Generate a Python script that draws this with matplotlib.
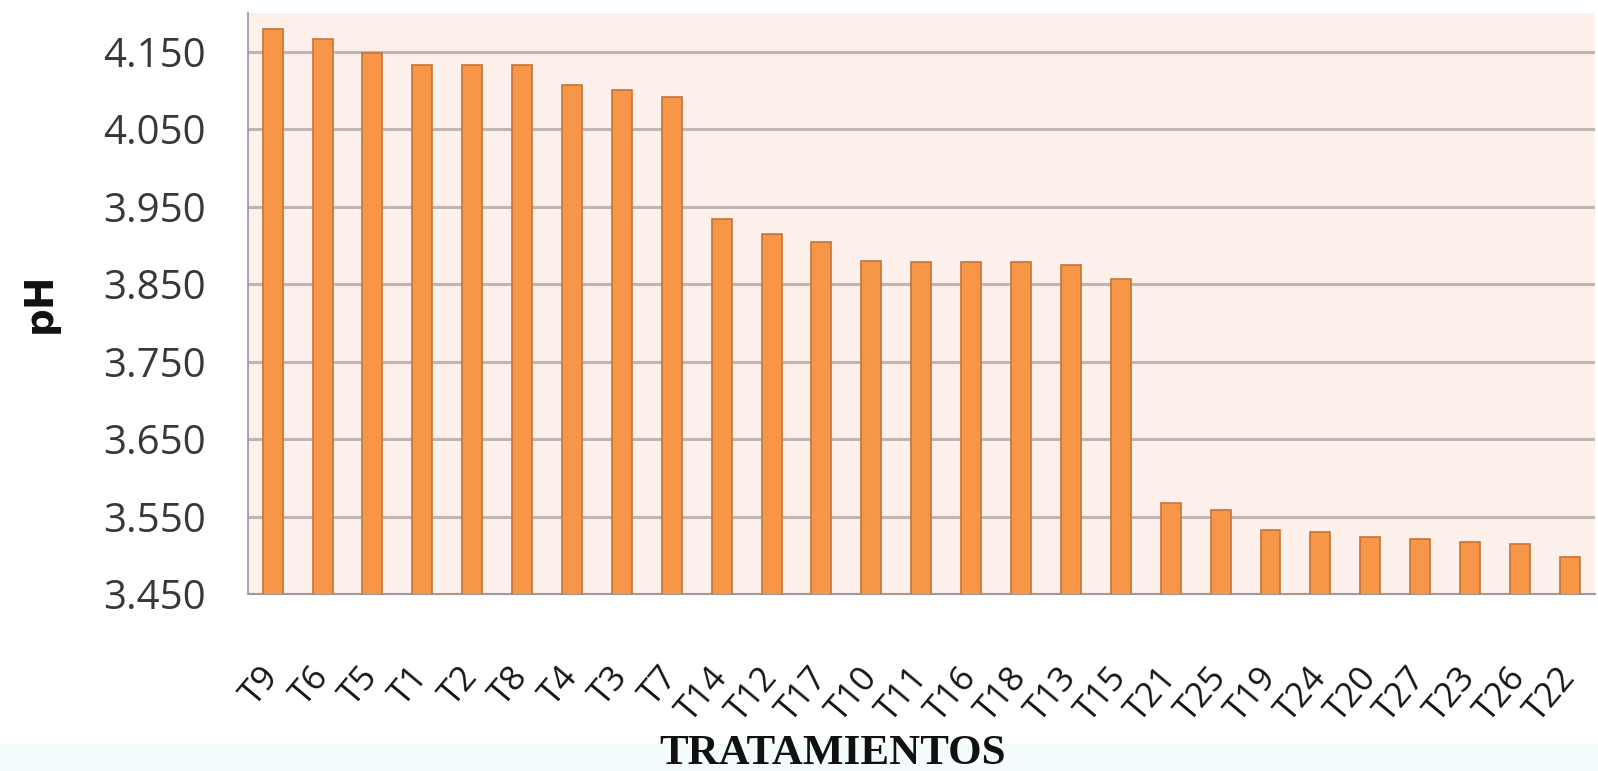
import numpy as np
import matplotlib.pyplot as plt
from matplotlib.patches import Rectangle

# treatments sorted by pH, highest first
tratamientos = ['T9', 'T6', 'T5', 'T1', 'T2', 'T8', 'T4', 'T3', 'T7',
                'T14', 'T12', 'T17', 'T10', 'T11', 'T16', 'T18', 'T13', 'T15',
                'T21', 'T25', 'T19', 'T24', 'T20', 'T27', 'T23', 'T26', 'T22']
ph = [4.179, 4.166, 4.149, 4.133, 4.133, 4.133, 4.107, 4.100, 4.091,
      3.934, 3.915, 3.904, 3.880, 3.879, 3.879, 3.879, 3.875, 3.857,
      3.568, 3.559, 3.533, 3.530, 3.524, 3.521, 3.517, 3.515, 3.498]
yticks = [3.450, 3.550, 3.650, 3.750, 3.850, 3.950, 4.050, 4.150]

fig = plt.figure(figsize=(15.98, 7.71), dpi=100, facecolor='white')
# pale strip along the bottom edge
fig.patches.append(Rectangle((0, 0), 1, 0.035, transform=fig.transFigure,
                             facecolor='#f3fbfd', edgecolor='none', zorder=-5))

ax = fig.add_axes([0.155, 0.2296, 0.843, 0.7535])
ax.set_facecolor('#fdefe9')

x = np.arange(len(tratamientos))
ax.bar(x, ph, width=0.4, bottom=0, color='#f79646', edgecolor='#c4743a',
       linewidth=1.2, zorder=3)

ax.set_ylim(3.45, 4.20)
ax.set_xlim(-0.5, len(tratamientos) - 0.5)
ax.set_yticks(yticks)
ax.set_yticklabels(['%.3f' % v for v in yticks], fontname='Open Sans',
                   fontsize=29, color='#383838')
ax.yaxis.grid(True, color='#bfb6b4', linewidth=2.2, zorder=1)
ax.set_axisbelow(True)
ax.tick_params(axis='y', length=0, pad=30)
ax.tick_params(axis='x', length=0, pad=56)

ax.set_xticks(x)
ax.set_xticklabels(tratamientos, rotation=50, ha='right', va='center',
                   rotation_mode='anchor', fontname='Open Sans',
                   fontsize=25, color='#151515')

for side in ['top', 'right']:
    ax.spines[side].set_visible(False)
ax.spines['left'].set_color('#9a96a8')
ax.spines['left'].set_linewidth(1.2)
ax.spines['bottom'].set_color('#a09a9a')
ax.spines['bottom'].set_linewidth(1.5)

fig.text(0.025, 0.607, 'pH', rotation=90, ha='center', va='center',
         fontname='DejaVu Sans', fontweight='bold', fontsize=28, color='#111111')
fig.text(0.521, 0.022, 'TRATAMIENTOS', ha='center', va='center',
         fontname='Liberation Serif', fontweight='bold', fontsize=31,
         color='#111111')

fig.savefig('out.png', dpi=100, facecolor=fig.get_facecolor())
